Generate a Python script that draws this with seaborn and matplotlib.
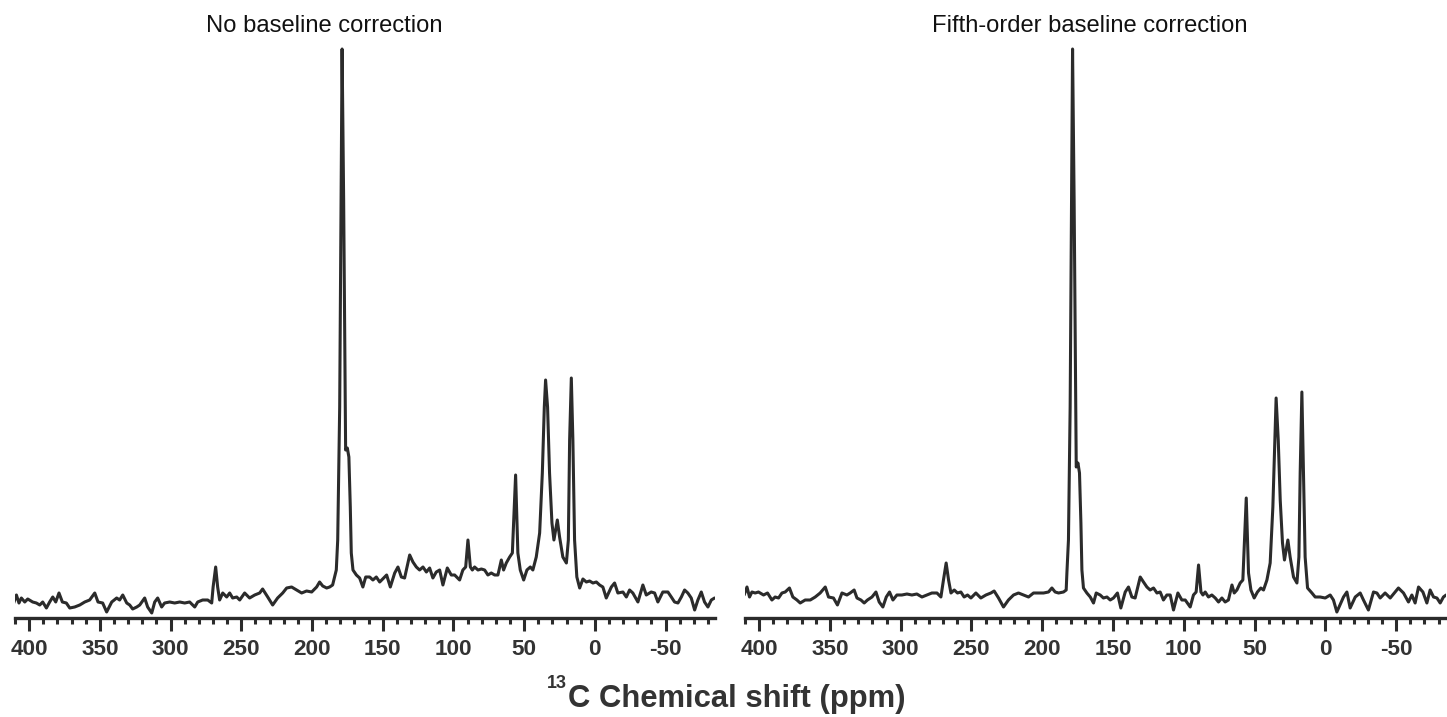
import matplotlib
matplotlib.use("Agg")
import matplotlib.pyplot as plt
from matplotlib.ticker import MultipleLocator
import seaborn as sns
import pandas as pd

# ---------------- data ----------------
titles = ["No baseline correction", "Fifth-order baseline correction"]
xlabel_sup = "13"
xlabel_main = "C Chemical shift (ppm)"
major_ticks = [400, 350, 300, 250, 200, 150, 100, 50, 0, -50]

ppm_raw = [410.9, 409.0, 407.2, 405.5, 403.1, 401.0, 397.5, 394.9, 392.5, 390.4,
           387.8, 385.5, 383.3, 381.2, 378.9, 376.5, 373.7, 371.3, 367.8, 364.2,
           360.7, 357.2, 353.6, 351.3, 348.0, 345.2, 341.6, 338.1, 336.0, 333.8,
           331.0, 328.9, 326.8, 323.9, 321.8, 318.3, 316.2, 313.3, 311.2, 309.1,
           306.3, 304.2, 300.6, 297.1, 293.5, 290.0, 286.5, 282.9, 280.8, 277.3,
           273.7, 270.9, 269.9, 268.1, 266.7, 265.3, 263.1, 260.3, 258.2, 256.1,
           253.2, 251.1, 247.6, 244.1, 240.5, 237.0, 234.9, 231.3, 227.8, 224.3,
           220.7, 217.9, 214.4, 210.8, 207.3, 203.8, 200.2, 196.7, 194.6, 192.4,
           189.6, 187.5, 185.4, 182.8, 181.8, 180.4, 178.7, 177.6, 176.2, 175.0,
           173.9, 172.9, 172.2, 171.0, 168.6, 166.3, 164.0, 162.0, 159.2, 156.9,
           154.5, 152.1, 150.0, 147.2, 144.6, 141.5, 139.2, 136.8, 134.5, 130.9,
           128.6, 126.2, 123.9, 121.5, 119.1, 116.8, 114.5, 112.1, 109.7, 107.4,
           104.3, 101.5, 99.1, 95.6, 93.3, 91.3, 89.7, 88.0, 86.6, 85.0,
           82.6, 80.2, 77.9, 75.6, 73.2, 70.8, 68.5, 66.1, 64.5, 62.6,
           60.2, 58.3, 56.0, 54.4, 52.7, 50.3, 48.0, 45.6, 43.8, 41.4,
           39.0, 37.1, 35.7, 34.8, 33.4, 32.0, 30.3, 28.9, 26.5, 24.9,
           22.6, 20.1, 18.7, 17.8, 16.6, 15.5, 14.3, 12.7, 10.7, 8.4,
           6.0, 3.7, 1.3, -1.1, -3.4, -5.7, -8.1, -11.7, -14.0, -16.3,
           -19.9, -22.3, -24.6, -26.9, -30.5, -34.0, -36.4, -39.9, -42.3, -44.6,
           -48.1, -51.7, -54.1, -56.4, -58.8, -61.2, -63.5, -65.8, -68.2, -70.6,
           -72.9, -75.3, -77.6, -80.0, -82.4, -84.7]
int_raw = [15, 23, 15, 20, 16, 19, 16, 15, 13, 16,
           10, 16, 21, 16, 25, 16, 15, 10, 11, 13,
           16, 18, 25, 16, 15, 6, 16, 20, 18, 23,
           15, 13, 9, 11, 13, 20, 11, 5, 16, 20,
           11, 15, 16, 15, 16, 15, 16, 11, 16, 18,
           18, 15, 31, 51, 31, 18, 25, 21, 25, 20,
           21, 18, 25, 20, 23, 25, 29, 21, 13, 20,
           25, 30, 31, 28, 25, 27, 26, 31, 36, 32,
           30, 31, 33, 48, 78, 211, 569, 418, 168, 170,
           161, 111, 65, 48, 43, 40, 31, 41, 41, 38,
           41, 36, 39, 43, 31, 45, 51, 41, 40, 63,
           56, 51, 48, 51, 46, 50, 40, 46, 48, 33,
           50, 43, 43, 38, 48, 51, 78, 51, 48, 51,
           48, 49, 48, 43, 45, 43, 43, 58, 48, 55,
           61, 65, 143, 65, 48, 38, 48, 51, 48, 61,
           85, 145, 211, 238, 211, 145, 95, 78, 98, 81,
           61, 55, 78, 178, 240, 178, 78, 41, 30, 39,
           36, 37, 35, 36, 33, 31, 20, 31, 35, 25,
           26, 21, 28, 25, 16, 33, 23, 26, 25, 16,
           26, 26, 21, 16, 15, 21, 28, 25, 20, 8,
           18, 26, 16, 11, 18, 20]

ppm_corr = [410.6, 408.6, 406.8, 405.1, 402.8, 400.5, 396.9, 394.1, 391.0, 388.7,
            386.3, 383.9, 381.6, 378.6, 376.2, 373.3, 371.0, 367.5, 363.9, 360.4,
            356.9, 353.3, 351.0, 347.5, 344.7, 341.5, 338.0, 335.7, 332.9, 330.9,
            328.1, 325.8, 323.5, 320.3, 317.5, 315.2, 312.6, 310.2, 307.9, 305.5,
            302.7, 299.2, 295.6, 292.1, 288.6, 285.0, 281.5, 278.0, 274.4, 271.6,
            269.8, 267.9, 266.2, 264.5, 262.2, 259.9, 257.5, 255.2, 252.8, 250.4,
            246.9, 243.4, 239.8, 236.3, 234.0, 230.9, 227.4, 223.9, 220.3, 216.8,
            213.3, 209.7, 206.2, 202.7, 199.1, 195.6, 193.2, 190.9, 188.5, 185.0,
            183.1, 182.6, 181.5, 180.3, 178.6, 177.5, 176.0, 174.8, 173.7, 172.7,
            172.0, 170.9, 168.5, 166.1, 163.8, 161.9, 159.1, 156.8, 154.3, 152.0,
            149.7, 146.9, 144.5, 141.4, 139.1, 136.7, 134.4, 130.8, 128.5, 126.1,
            123.8, 121.4, 119.0, 116.7, 114.4, 112.0, 109.6, 107.3, 104.2, 101.4,
            99.0, 95.5, 93.2, 91.3, 89.6, 87.9, 86.5, 84.9, 82.6, 80.2,
            77.8, 75.5, 73.1, 70.8, 68.5, 66.0, 64.4, 62.5, 60.2, 58.3,
            55.9, 54.3, 52.6, 50.3, 48.0, 45.6, 43.7, 41.3, 39.0, 37.1,
            35.7, 34.8, 33.3, 31.9, 30.3, 28.9, 26.5, 24.9, 22.5, 20.1,
            18.7, 17.8, 16.6, 15.5, 14.3, 12.6, 9.5, 7.2, 3.7, 0.1,
            -3.4, -5.7, -8.1, -12.8, -15.2, -17.5, -21.1, -24.6, -26.9, -30.4,
            -34.0, -36.4, -38.7, -42.2, -45.8, -49.3, -51.6, -55.2, -58.7, -61.1,
            -63.4, -65.8, -68.9, -71.7, -74.0, -76.4, -78.8, -81.1, -83.4, -85.3]
int_corr = [23, 31, 21, 26, 25, 26, 23, 25, 18, 21,
            20, 25, 26, 30, 21, 18, 15, 18, 18, 21,
            25, 31, 21, 20, 13, 25, 23, 25, 28, 20,
            18, 15, 18, 21, 26, 16, 11, 21, 26, 18,
            23, 23, 24, 23, 24, 21, 23, 25, 25, 21,
            38, 55, 38, 25, 28, 25, 26, 21, 23, 20,
            25, 20, 23, 25, 27, 20, 11, 18, 23, 25,
            23, 21, 25, 25, 25, 26, 30, 26, 25, 26,
            28, 45, 78, 211, 569, 418, 151, 155, 145, 95,
            48, 30, 25, 21, 15, 25, 23, 20, 21, 18,
            20, 25, 10, 26, 31, 21, 20, 41, 36, 31,
            28, 30, 25, 26, 18, 23, 23, 8, 25, 18,
            18, 11, 23, 26, 53, 26, 23, 26, 21, 23,
            20, 16, 20, 16, 18, 33, 25, 28, 35, 38,
            120, 45, 28, 20, 26, 30, 28, 38, 55, 111,
            178, 220, 178, 118, 75, 58, 78, 61, 41, 35,
            61, 145, 226, 145, 61, 30, 25, 21, 21, 20,
            23, 18, 6, 21, 26, 10, 21, 25, 18, 8,
            26, 25, 20, 25, 20, 26, 30, 25, 16, 23,
            15, 31, 26, 15, 28, 21, 20, 15, 21, 23]

# ---------------- style ----------------
sns.set_theme(style="white")
plt.rcParams["font.family"] = ["Liberation Sans", "DejaVu Sans"]

LINE = "#2b2b2b"
TXT = "#333333"
W, H = 1447, 717
fig = plt.figure(figsize=(W / 100, H / 100), dpi=100)

bottom = (H - 618) / H
height = (618 - 40) / H
ax_l = fig.add_axes([15 / W, bottom, 700 / W, height])
ax_r = fig.add_axes([745 / W, bottom, 700.7 / W, height])

frames = [pd.DataFrame({"ppm": ppm_raw, "intensity": int_raw}),
          pd.DataFrame({"ppm": ppm_corr, "intensity": int_corr})]

for ax, df in zip([ax_l, ax_r], frames):
    sns.lineplot(data=df, x="ppm", y="intensity", ax=ax, color=LINE,
                 linewidth=2.2, estimator=None, sort=False)
    ax.set_xlim(410, -85)
    ax.set_ylim(0, 578)
    ax.set_xlabel("")
    ax.set_ylabel("")
    ax.set_yticks([])
    for s in ["left", "right", "top"]:
        ax.spines[s].set_visible(False)
    ax.spines["bottom"].set_linewidth(2.4)
    ax.spines["bottom"].set_color(LINE)
    ax.set_xticks(major_ticks)
    ax.set_xticklabels([str(t) for t in major_ticks])
    ax.xaxis.set_minor_locator(MultipleLocator(10))
    ax.tick_params(axis="x", which="major", direction="out", length=9.4,
                   width=2.2, color=LINE, pad=6.0, labelsize=16.2,
                   labelcolor=TXT, bottom=True)
    ax.tick_params(axis="x", which="minor", direction="out", length=4.6,
                   width=2.2, color=LINE, bottom=True)
    for lab in ax.get_xticklabels():
        lab.set_fontweight("bold")
    ax.set_facecolor("none")

# titles
fig.text(442 / W, (H - 31.7) / H, titles[0], ha="right", va="baseline",
         fontsize=17.1, color="#111111")
fig.text(1248 / W, (H - 31.7) / H, titles[1], ha="right", va="baseline",
         fontsize=17.1, color="#111111")

# x label (superscript + main text)
fig.text(568.3 / W, (H - 706.7) / H, xlabel_main, ha="left", va="baseline",
         fontsize=22.3, fontweight="bold", color=TXT)
fig.text(566.7 / W, (H - 688) / H, xlabel_sup, ha="right", va="baseline",
         fontsize=13, fontweight="bold", color=TXT)

fig.savefig("out.png", dpi=100)
